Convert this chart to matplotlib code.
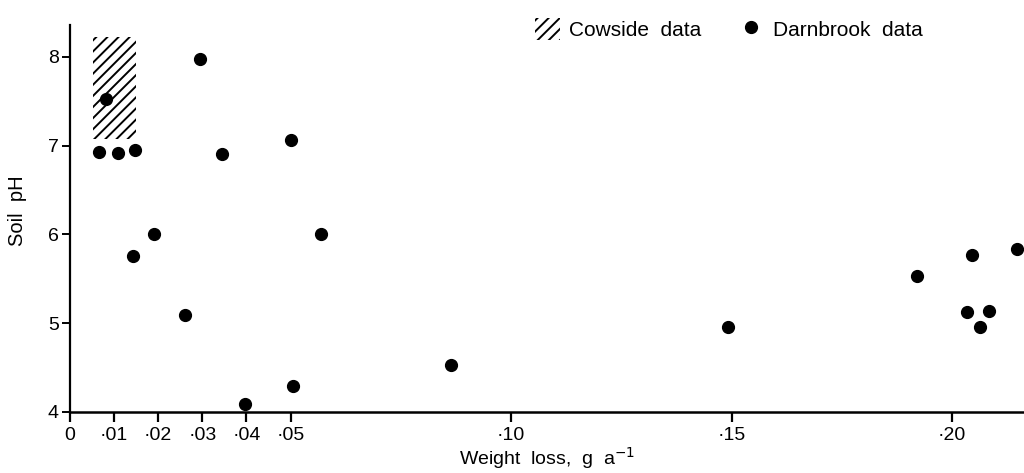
import matplotlib

matplotlib.use("Agg")
import matplotlib.pyplot as plt
from matplotlib.lines import Line2D
from matplotlib.patches import Patch, Rectangle

plt.rcParams["font.family"] = ["Liberation Sans", "DejaVu Sans"]
plt.rcParams["hatch.linewidth"] = 1.4

# Darnbrook points (weight loss g/a, soil pH)
darnbrook_x = [0.0081, 0.0066, 0.0108, 0.0147, 0.0295, 0.0345, 0.0500,
               0.0191, 0.0569, 0.0142, 0.0261, 0.0397, 0.0506, 0.0864,
               0.1492, 0.1921, 0.2046, 0.2147, 0.2033, 0.2084, 0.2063]
darnbrook_ph = [7.53, 6.93, 6.92, 6.95, 7.98, 6.91, 7.06,
                6.00, 6.00, 5.75, 5.09, 4.09, 4.29, 4.53,
                4.96, 5.53, 5.77, 5.84, 5.12, 5.13, 4.95]

# Cowside range shown as a hatched box
cowside_x = (0.0052, 0.0150)
cowside_ph = (7.07, 8.23)

xticks = [0, 0.01, 0.02, 0.03, 0.04, 0.05, 0.10, 0.15, 0.20]
xtick_labels = ["0", "·01", "·02", "·03", "·04", "·05", "·10", "·15", "·20"]
yticks = [4, 5, 6, 7, 8]

fig = plt.figure(figsize=(10.24, 4.73), dpi=100)
fig.patch.set_facecolor("white")
ax = fig.add_axes([0.0684, 0.1296, 0.9316, 0.8175])

ax.add_patch(Rectangle((cowside_x[0], cowside_ph[0]),
                       cowside_x[1] - cowside_x[0], cowside_ph[1] - cowside_ph[0],
                       facecolor="none", edgecolor="black", linewidth=0,
                       hatch="///"))
ax.plot(darnbrook_x, darnbrook_ph, "o", color="black", markersize=8.5,
        clip_on=False, zorder=3)

ax.set_xlim(0, 0.2163)
ax.set_ylim(4, 8.36)
for side in ("top", "right"):
    ax.spines[side].set_visible(False)
ax.spines["left"].set_linewidth(1.6)
ax.spines["bottom"].set_linewidth(1.8)

ax.set_xticks(xticks)
ax.set_xticklabels(xtick_labels)
ax.set_yticks(yticks)
ax.tick_params(axis="x", direction="out", length=7, width=1.6, labelsize=14, pad=4)
ax.tick_params(axis="y", direction="out", length=6, width=1.4, labelsize=14, pad=2)

ax.set_xlabel("Weight  loss,  g  a$^{-1}$", fontsize=14, labelpad=1)
ax.set_ylabel("Soil  pH", fontsize=14.5)
ax.yaxis.set_label_coords(-0.045, 0.52)

handles = [
    Patch(facecolor="none", edgecolor="black", linewidth=0, hatch="///"),
    Line2D([], [], marker="o", linestyle="none", color="black", markersize=8.5),
]
ax.legend(handles, ["Cowside  data", "Darnbrook  data"], ncol=2, frameon=False,
          loc="center left", bbox_to_anchor=(0.487, 0.99), fontsize=15,
          borderpad=0, borderaxespad=0,
          handlelength=1.2, handleheight=1.25, handletextpad=0.45,
          columnspacing=1.8)

fig.savefig("out.png", dpi=100, facecolor="white")
plt.close(fig)
